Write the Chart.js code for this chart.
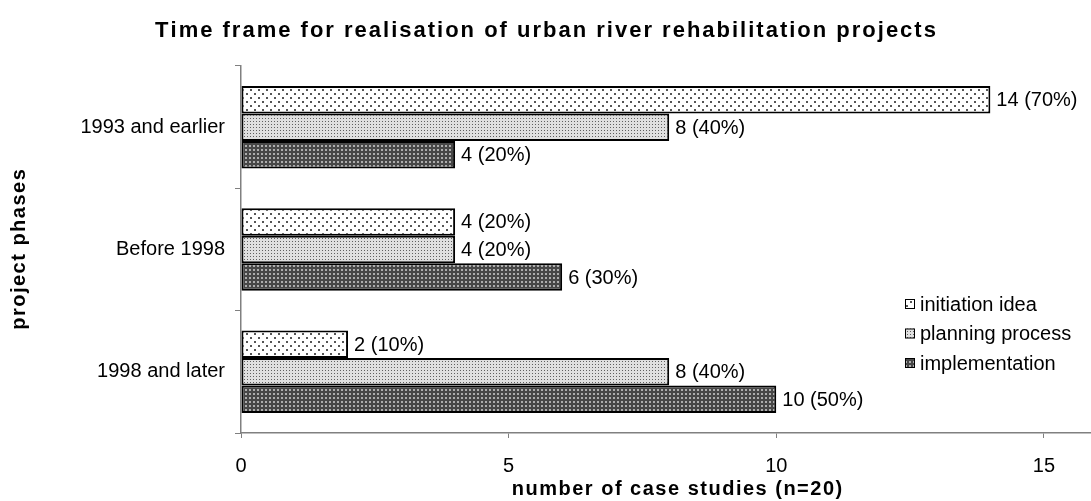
<!DOCTYPE html>
<html>
<head>
<meta charset="utf-8">
<script src="https://cdn.jsdelivr.net/npm/chart.js@4/dist/chart.umd.min.js"></script>
<style>
  html, body { margin: 0; padding: 0; background: #fff; overflow: hidden; }
  #wrap { width: 1091px; height: 501px; position: relative; }
</style>
</head>
<body>
<div id="wrap"><canvas id="chart"></canvas></div>
<script>
// data
const phases = ['1993 and earlier', 'Before 1998', '1998 and later'];
const seriesNames = ['initiation idea', 'planning process', 'implementation'];
const initiationIdea = [14, 4, 2];
const planningProcess = [8, 4, 8];
const implementation = [4, 6, 10];
const caseTotal = 20;
const xTicks = [0, 5, 10, 15];

const chartTitle = 'Time frame for realisation of urban river rehabilitation projects';
const xTitle = 'number of case studies (n=20)';
const yTitle = 'project phases';

const FONT = "'Liberation Sans', Arial, sans-serif";

// fill patterns (dotted, like the original print-style chart)
function makePattern(size, bg, dots, dotColor, dotSize) {
    const c = document.createElement('canvas');
    c.width = size[0]; c.height = size[1];
    const g = c.getContext('2d');
    g.fillStyle = bg;
    g.fillRect(0, 0, c.width, c.height);
    g.fillStyle = dotColor;
    dots.forEach(d => g.fillRect(d[0], d[1], dotSize, dotSize));
    return g.createPattern(c, 'repeat');
}
const ctx = document.getElementById('chart').getContext('2d');
const patSparse = makePattern([8, 8], '#ffffff', [[2, 1], [6, 5]], '#555555', 2);
const patLight = makePattern([3, 3], '#e0e0e0', [[1, 1]], '#606060', 1);
const patDark = makePattern([4, 4], '#474747', [[1, 1]], '#adadad', 2);
const fills = [patSparse, patLight, patDark];
const seriesData = [initiationIdea, planningProcess, implementation];

// draws text centred on (cx, cy) with extra spacing between letters
function spacedText(c, text, cx, cy, spacing) {
    const widths = [...text].map(ch => c.measureText(ch).width);
    const total = widths.reduce((a, b) => a + b, 0) + spacing * (text.length - 1);
    let x = cx - total / 2;
    c.textAlign = 'left';
    c.textBaseline = 'middle';
    [...text].forEach((ch, i) => {
        c.fillText(ch, x, cy);
        x += widths[i] + spacing;
    });
}

const titles = {
    id: 'titles',
    afterDraw(chart) {
        const c = chart.ctx;
        const area = chart.chartArea;
        c.save();
        c.fillStyle = '#000';
        c.font = 'bold 22px ' + FONT;
        spacedText(c, chartTitle, chart.width / 2, 31, 2);
        c.font = 'bold 20px ' + FONT;
        spacedText(c, xTitle, 677, 489, 1.5);
        c.translate(19, (area.top + area.bottom) / 2);
        c.rotate(-Math.PI / 2);
        spacedText(c, yTitle, 0, 0, 1.5);
        c.restore();
    }
};

const valueLabels = {
    id: 'valueLabels',
    afterDatasetsDraw(chart) {
        const c = chart.ctx;
        c.save();
        c.font = '20px ' + FONT;
        c.fillStyle = '#000';
        c.textBaseline = 'middle';
        c.textAlign = 'left';
        chart.data.datasets.forEach((ds, i) => {
            chart.getDatasetMeta(i).data.forEach((bar, j) => {
                const v = ds.data[j];
                const pct = Math.round(v / caseTotal * 100);
                c.fillText(v + ' (' + pct + '%)', bar.x + 6, bar.y + 1);
            });
        });
        c.restore();
    }
};

// legend box placed inside the plot, lower right
const boxLegend = {
    id: 'boxLegend',
    afterDraw(chart) {
        const c = chart.ctx;
        const x = 905, y0 = 304, step = 29.5;
        c.save();
        c.font = '20px ' + FONT;
        c.textBaseline = 'middle';
        c.textAlign = 'left';
        seriesNames.forEach((name, i) => {
            const y = y0 + i * step;
            c.fillStyle = fills[i];
            c.fillRect(x, y - 5, 10, 10);
            c.strokeStyle = '#000';
            c.lineWidth = 1;
            c.strokeRect(x + 0.5, y - 4.5, 9, 9);
            c.fillStyle = '#000';
            c.fillText(name, x + 15, y + 1);
        });
        c.restore();
    }
};

new Chart(ctx, {
    type: 'bar',
    data: {
        labels: phases,
        datasets: seriesNames.map((name, i) => ({
            label: name,
            data: seriesData[i],
            backgroundColor: fills[i],
            borderColor: '#000',
            borderWidth: 2,
            borderSkipped: false,
            barPercentage: 1,
            categoryPercentage: 0.675
        }))
    },
    options: {
        indexAxis: 'y',
        responsive: true,
        maintainAspectRatio: false,
        animation: false,
        layout: { padding: { left: 0, right: 0, top: 66, bottom: 0 } },
        plugins: {
            legend: { display: false },
            tooltip: { enabled: false },
            title: { display: false }
        },
        scales: {
            x: {
                min: 0,
                max: 15.88,
                afterBuildTicks: (scale) => { scale.ticks = xTicks.map(v => ({ value: v })); },
                ticks: { color: '#000', font: { family: FONT, size: 20 }, padding: 16 },
                grid: { drawOnChartArea: false, color: '#808080', tickLength: 5 },
                border: { color: '#808080', width: 1.5 },
                afterFit: (scale) => { scale.height = 68; }
            },
            y: {
                offset: true,
                ticks: { color: '#000', font: { family: FONT, size: 20 }, padding: 10 },
                grid: { offset: true, drawOnChartArea: false, color: '#808080', tickLength: 6 },
                border: { color: '#808080', width: 1.5 },
                afterFit: (scale) => { scale.width = 241; }
            }
        }
    },
    plugins: [valueLabels, boxLegend, titles]
});
</script>
</body>
</html>
